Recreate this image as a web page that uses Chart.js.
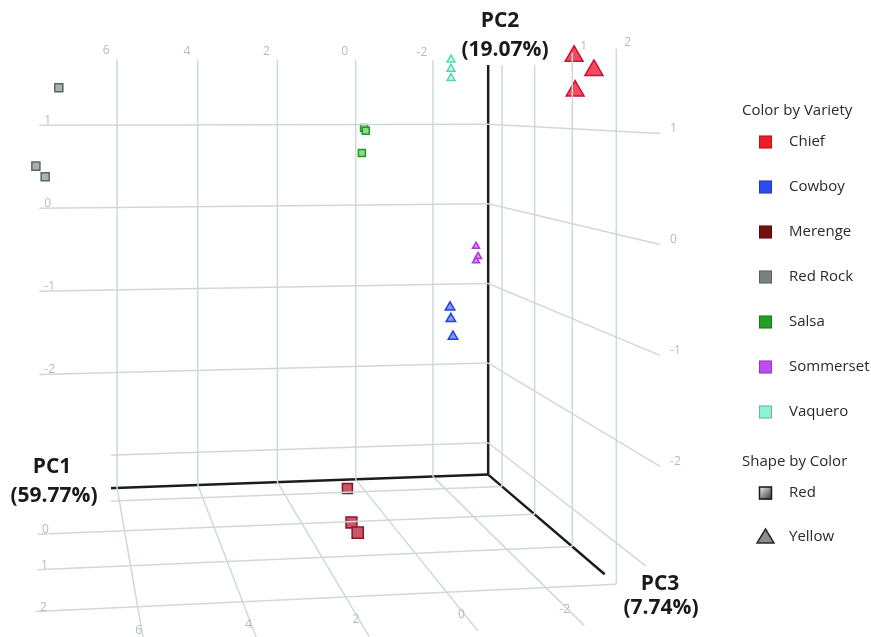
<!DOCTYPE html>
<html>
<head>
<meta charset="utf-8">
<script src="https://cdn.jsdelivr.net/npm/chart.js@4.4.1/dist/chart.umd.min.js"></script>
<style>
    html, body { margin: 0; padding: 0; background: #fff; overflow: hidden; }
    #wrap { width: 871px; height: 637px; position: relative; }
</style>
</head>
<body>
<div id="wrap"><canvas id="pcaChart" width="871" height="637"></canvas></div>
<script>
// --- data (PC1, PC2, PC3 scores) ---
const varieties = ['Chief', 'Cowboy', 'Merenge', 'Red Rock', 'Salsa', 'Sommerset', 'Vaquero'];
const seedColors = ['Red', 'Yellow'];

const chief = [[-2.40, 1.72, 2.2], [-2.61, 1.58, 2.4], [-2.42, 1.39, 2.2]];
const cowboy = [[-1.44, -1.03, 0.0], [-1.46, -1.16, 0.0], [-1.51, -1.36, 0.0]];
const merenge = [[1.00, -3.00, 0.09], [1.45, -3.00, 1.15], [1.47, -3.00, 1.44]];
const redRock = [[7.44, 1.44, -0.5], [7.96, 0.56, -0.5], [7.75, 0.44, -0.5]];
const salsa = [[0.57, 0.99, 0.0], [0.53, 0.96, 0.0], [0.62, 0.71, 0.0]];
const sommerset = [[-2.42, -0.41, -0.5], [-2.47, -0.53, -0.5], [-2.42, -0.58, -0.5]];
const vaquero = [[-1.12, 1.74, 0.5], [-1.12, 1.64, 0.5], [-1.12, 1.54, 0.5]];

// axis ranges and ticks
const pc1Range = [-3.45, 7.9];
const pc2Range = [-3.4, 1.8];
const pc3Range = [-1.47, 2.85];
const pc1Ticks = [6, 4, 2, 0, -2];
const pc2Ticks = [1, 0, -1, -2, -3];
const pc3Ticks = [-1, 0, 1, 2];
const pc2Labels = [1, 0, -1, -2];
const pc3FloorLabels = [0, 1, 2];
const pc3WallLabels = [-1, 0, 1, 2];

const axisTitles = ['PC1', '(59.77%)', 'PC2', '(19.07%)', 'PC3', '(7.74%)'];

// --- styles ---
const seriesData = [chief, cowboy, merenge, redRock, salsa, sommerset, vaquero];
const seriesShape = ['triangle', 'triangle', 'rect', 'rect', 'rect', 'triangle', 'triangle'];
const seriesBorder = ['#cf1030', '#2040e4', '#8a1424', '#5c6464', '#1f9a1f', '#b032e2', '#4fd8b0'];
const seriesFill = ['#f24a60', '#8496f6', '#c65868', '#a9b2b2', '#8cd98c', '#da92f8', '#cbf8ea'];
const legendFill = ['#ee1c24', '#2d4cf0', '#741010', '#7b8080', '#22a020', '#c24af2', '#8cf2d4'];
const baseRadius = [8.1, 5.1, 6.5, 5.3, 4.6, 3.9, 4.1];

const gridColor = '#d0d9d9';
const tickColor = '#b4bcbc';
const axisColor = '#1c1c1c';

// simple one-point perspective looking at the back (PC1-PC2) wall
const view = {vx: 50, vy: 100, sx: 41.2, sy: 83.06, c1: 7.64, c2: 1.303, k1: 0.0038, k3: 0.068, ref1: 7.8};

function depth(p) {
    return 1 + view.k1 * (view.ref1 - p[0]) - view.k3 * (p[2] - pc3Range[0]);
}

function project(p) {
    const w = depth(p);
    return {
        x: view.vx + view.sx * (view.c1 - p[0]) / w,
        y: view.vy + view.sy * (view.c2 - p[1]) / w,
        w: w
    };
}

function segment(a, b, color, width) {
    return {
        data: [project(a), project(b)],
        showLine: true,
        borderColor: color,
        borderWidth: width,
        pointRadius: 0,
        fill: false
    };
}

const [x0, x1] = pc1Range;
const [y0, y1] = pc2Range;
const [z0, z1] = pc3Range;

const gridSets = [];
// back wall
pc2Ticks.forEach(t => gridSets.push(segment([x1, t, z0], [x0, t, z0], gridColor, 1.5)));
pc1Ticks.forEach(t => gridSets.push(segment([t, y0, z0], [t, y1, z0], gridColor, 1.5)));
// right wall
pc2Ticks.forEach(t => gridSets.push(segment([x0, t, z0], [x0, t, z1], gridColor, 1.5)));
pc3Ticks.forEach(t => gridSets.push(segment([x0, y0, t], [x0, y1, t], gridColor, 1.5)));
// floor
pc3Ticks.forEach(t => gridSets.push(segment([x1, y0, t], [x0, y0, t], gridColor, 1.5)));
pc1Ticks.forEach(t => gridSets.push(segment([t, y0, z0], [t, y0, z1], gridColor, 1.5)));

const axisSets = [
    segment([x1, y0, z0], [x0, y0, z0], axisColor, 2.5),
    segment([x0, y0, z0], [x0, y1, z0], axisColor, 2.5),
    segment([x0, y0, z0], [x0, y0, 1.75], axisColor, 2.5)
];

const pointSets = varieties.map((name, i) => ({
    label: name,
    data: seriesData[i].map(project),
    pointStyle: seriesShape[i],
    backgroundColor: seriesFill[i],
    borderColor: seriesBorder[i],
    borderWidth: 1.5,
    pointRadius: ctx => baseRadius[i] / (ctx.raw ? ctx.raw.w : 1)
}));

const textPlugin = {
    id: 'pcaText',
    afterDatasetsDraw(chart) {
        const {ctx, scales: {x, y}} = chart;
        const at = p => {
            const q = project(p);
            return [x.getPixelForValue(q.x), y.getPixelForValue(q.y)];
        };

        ctx.save();
        ctx.font = '12px "Open Sans", sans-serif';
        ctx.fillStyle = tickColor;

        // PC1 ticks on top of back wall and front of floor
        ctx.textAlign = 'center';
        ctx.textBaseline = 'middle';
        pc1Ticks.forEach(t => {
            const [px, py] = at([t, y1, z0]);
            ctx.fillText(String(t), px - 11, py - 8);
            const [fx, fy] = at([t, y0, 2.5]);
            ctx.fillText(String(t), fx - 3, fy);
        });

        // PC2 ticks: left end of back wall, front end of right wall
        ctx.textAlign = 'left';
        pc2Labels.forEach(t => {
            const [px, py] = at([x1, t, z0]);
            ctx.textBaseline = 'alphabetic';
            ctx.fillText(String(t), px + 5, py - 1);
            const [rx, ry] = at([x0, t, z1]);
            ctx.textBaseline = 'middle';
            ctx.fillText(String(t), rx + 10, ry - 5);
        });

        // PC3 ticks: left end of floor, top of right wall
        ctx.textBaseline = 'alphabetic';
        pc3FloorLabels.forEach(t => {
            const [px, py] = at([x1, y0, t]);
            ctx.fillText(String(t), px + 4, py - 1);
        });
        pc3WallLabels.forEach(t => {
            const [px, py] = at([x0, y1, t]);
            ctx.fillText(String(t), px + 8, py - 3);
        });

        // axis titles on white boxes
        ctx.fillStyle = '#fff';
        ctx.fillRect(0, 448, 111, 66);
        ctx.fillRect(456, 0, 100, 65);
        ctx.fillRect(624, 566, 80, 56);

        ctx.font = 'bold 21px "Open Sans", sans-serif';
        ctx.fillStyle = '#1a1a1a';
        ctx.textAlign = 'center';
        ctx.textBaseline = 'middle';
        ctx.fillText(axisTitles[0], 52, 467);
        ctx.fillText(axisTitles[1], 54, 496);
        ctx.fillText(axisTitles[2], 500, 21);
        ctx.fillText(axisTitles[3], 505, 50);
        ctx.fillText(axisTitles[4], 660, 584);
        ctx.fillText(axisTitles[5], 661, 608);

        // legend
        ctx.font = '15px "Open Sans", sans-serif';
        ctx.fillStyle = '#2a2a2a';
        ctx.textAlign = 'left';
        ctx.fillText('Color by Variety', 742, 111);
        varieties.forEach((name, i) => {
            const cy = 142 + i * 45;
            ctx.fillStyle = legendFill[i];
            ctx.fillRect(759, cy - 6.5, 13, 13);
            ctx.strokeStyle = 'rgba(0,0,0,0.25)';
            ctx.lineWidth = 1;
            ctx.strokeRect(759.5, cy - 6, 12, 12);
            ctx.fillStyle = '#2a2a2a';
            ctx.fillText(name, 789, cy);
        });
        ctx.fillText('Shape by Color', 742, 462);
        seedColors.forEach((name, i) => {
            const cy = 493 + i * 44;
            if (i === 0) {
                const g = ctx.createLinearGradient(759, cy - 6, 772, cy + 7);
                g.addColorStop(0, '#f4f4f4');
                g.addColorStop(1, '#2a2a2a');
                ctx.fillStyle = g;
                ctx.fillRect(759, cy - 6.5, 13, 13);
                ctx.strokeStyle = '#1a1a1a';
                ctx.lineWidth = 1.5;
                ctx.strokeRect(759.5, cy - 6, 12, 12);
            } else {
                ctx.beginPath();
                ctx.moveTo(765.5, cy - 8);
                ctx.lineTo(774, cy + 6);
                ctx.lineTo(757, cy + 6);
                ctx.closePath();
                ctx.fillStyle = '#8a8e8e';
                ctx.fill();
                ctx.strokeStyle = '#2a2a2a';
                ctx.lineWidth = 1.5;
                ctx.stroke();
            }
            ctx.fillStyle = '#2a2a2a';
            ctx.fillText(name, 789, cy);
        });
        ctx.restore();
    }
};

new Chart(document.getElementById('pcaChart'), {
    type: 'scatter',
    data: {
        datasets: [...gridSets, ...axisSets, ...pointSets]
    },
    options: {
        responsive: false,
        animation: false,
        events: [],
        layout: {padding: 0, autoPadding: false},
        scales: {
            x: {type: 'linear', display: false, min: 0, max: 871},
            y: {type: 'linear', display: false, min: 0, max: 637, reverse: true}
        },
        plugins: {
            legend: {display: false},
            tooltip: {enabled: false}
        }
    },
    plugins: [textPlugin]
});
</script>
</body>
</html>
